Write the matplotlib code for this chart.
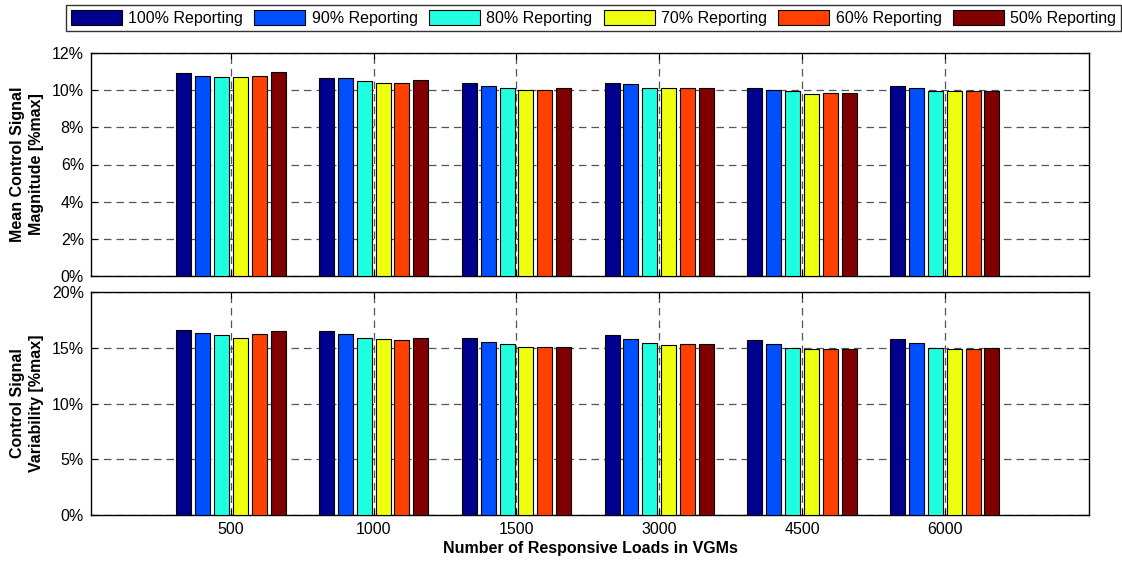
import matplotlib
matplotlib.use("Agg")
import matplotlib.pyplot as plt
import numpy as np
from matplotlib.ticker import FuncFormatter

categories = ["500", "1000", "1500", "3000", "4500", "6000"]
series_names = ["100% Reporting", "90% Reporting", "80% Reporting",
                "70% Reporting", "60% Reporting", "50% Reporting"]
colors = ["#00008F", "#0050FF", "#20FFDF", "#EFFF10", "#FF4000", "#800000"]

# Mean control signal magnitude [%max], one list per series, values per category
magnitude_100 = [10.92, 10.63, 10.36, 10.41, 10.14, 10.20]
magnitude_90 = [10.77, 10.63, 10.20, 10.31, 10.00, 10.09]
magnitude_80 = [10.70, 10.48, 10.09, 10.14, 9.93, 9.93]
magnitude_70 = [10.70, 10.41, 10.00, 10.14, 9.80, 9.93]
magnitude_60 = [10.77, 10.41, 10.00, 10.14, 9.87, 9.93]
magnitude_50 = [10.97, 10.57, 10.14, 10.14, 9.87, 9.93]

# Control signal variability [%max]
variability_100 = [16.61, 16.46, 15.86, 16.13, 15.68, 15.80]
variability_90 = [16.34, 16.22, 15.54, 15.80, 15.33, 15.42]
variability_80 = [16.13, 15.89, 15.33, 15.42, 15.00, 15.00]
variability_70 = [15.89, 15.77, 15.09, 15.21, 14.88, 14.88]
variability_60 = [16.22, 15.68, 15.09, 15.33, 14.88, 14.88]
variability_50 = [16.46, 15.86, 15.09, 15.33, 14.88, 15.00]

magnitude = [magnitude_100, magnitude_90, magnitude_80, magnitude_70, magnitude_60, magnitude_50]
variability = [variability_100, variability_90, variability_80, variability_70, variability_60, variability_50]

plt.rcParams['font.family'] = ['Liberation Sans', 'DejaVu Sans']

fig = plt.figure(figsize=(11.22, 5.62), dpi=100)
W, H = 1122, 562
ax1 = fig.add_axes([91 / W, 1 - 276 / H, (1089 - 91) / W, (276 - 53) / H])
ax2 = fig.add_axes([91 / W, 1 - 515 / H, (1089 - 91) / W, (515 - 292) / H])

x = np.arange(1, len(categories) + 1)
pitch = 0.132
bw = 0.105

handles = []
for ax, data, ymax, step in [(ax1, magnitude, 12, 2), (ax2, variability, 20, 5)]:
    for i, vals in enumerate(data):
        b = ax.bar(x + (i - 2.5) * pitch, vals, width=bw, color=colors[i],
                   edgecolor="black", linewidth=0.8, zorder=3, label=series_names[i])
        if ax is ax1:
            handles.append(b)
    ax.set_xlim(0.02, 7.01)
    ax.set_ylim(0, ymax)
    ax.set_yticks(np.arange(0, ymax + 0.01, step))
    ax.yaxis.set_major_formatter(FuncFormatter(lambda v, p: f"{v:.0f}%"))
    ax.set_xticks(x)
    ax.grid(True, linestyle=(0, (6, 4)), color="#555555", linewidth=0.9, zorder=0)
    ax.set_axisbelow(True)
    ax.tick_params(direction="in", top=True, right=True, length=4, labelsize=11.5, pad=5)
    for s in ax.spines.values():
        s.set_linewidth(1.0)

ax1.set_xticklabels([])
ax2.set_xticklabels(categories)
ax1.set_ylabel("Mean Control Signal\nMagnitude [%max]", fontsize=11.5, fontweight="bold",
               linespacing=1.3)
ax2.set_ylabel("Control Signal\nVariability [%max]", fontsize=11.5, fontweight="bold",
               linespacing=1.3)
ax2.set_xlabel("Number of Responsive Loads in VGMs", fontsize=11.5, fontweight="bold", labelpad=3)
ax1.yaxis.set_label_coords(-0.047, 0.5)
ax2.yaxis.set_label_coords(-0.047, 0.5)

leg = fig.legend(handles=handles, labels=series_names, loc="center",
                 bbox_to_anchor=((67 + 1120) / 2 / W, 1 - 18 / H), ncol=6,
                 frameon=True, fancybox=False, edgecolor="black", fontsize=11.5,
                 handlelength=3.2, handleheight=1.1, handletextpad=0.4,
                 columnspacing=0.7, borderpad=0.3)
leg.get_frame().set_linewidth(1.0)

fig.savefig("out.png", dpi=100)
